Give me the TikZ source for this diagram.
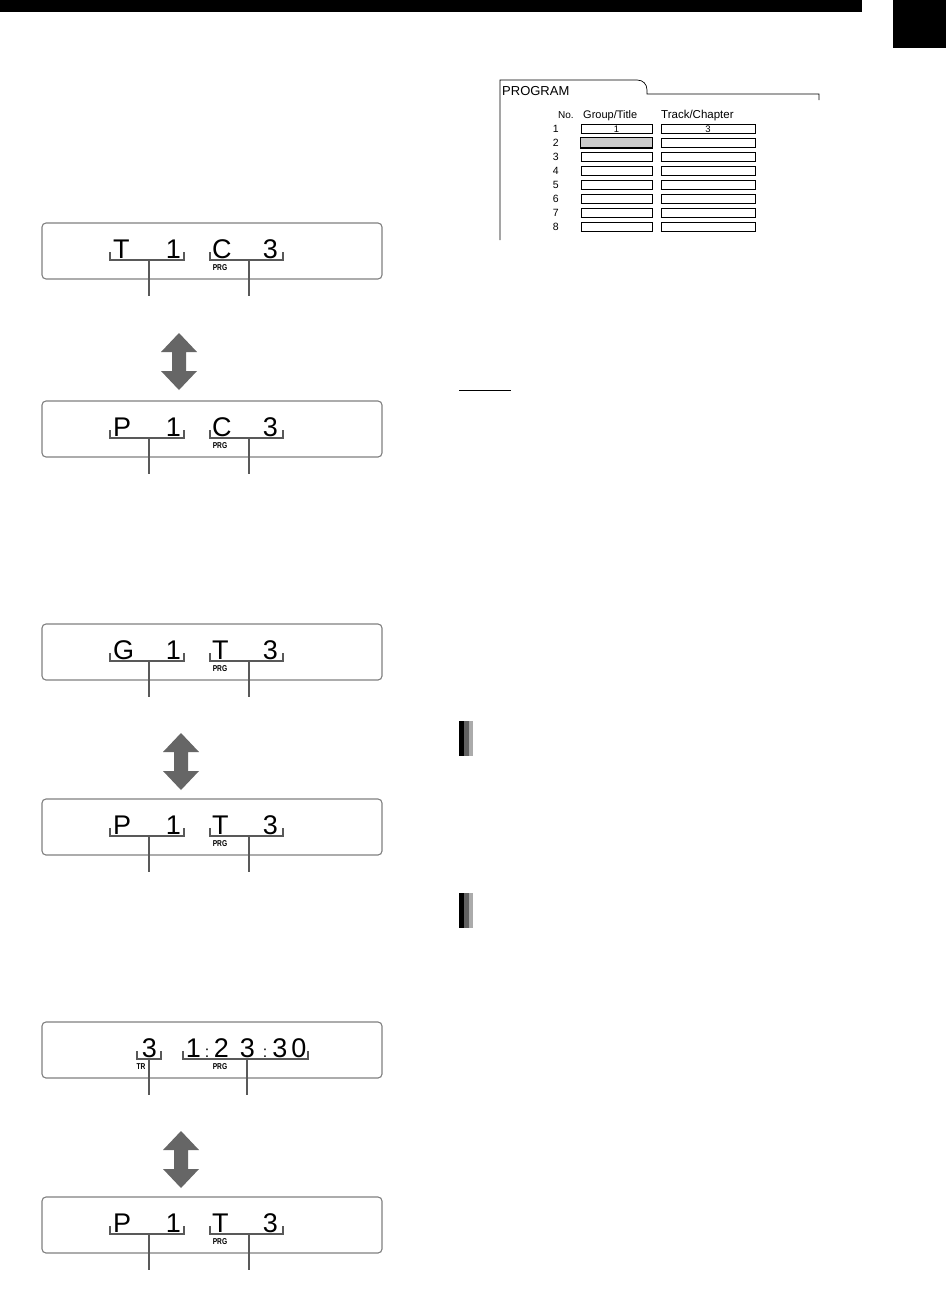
\documentclass[tikz,border=0pt]{standalone}
\usepackage{fontspec}
\setmainfont{Liberation Sans}
\tikzset{
  lcd/.style={draw=black!50, line width=1.1pt, rounded corners=4pt, minimum width=340pt, minimum height=56pt, inner sep=0pt},
  big/.style={font=\fontsize{27}{30}\selectfont, inner sep=0pt},
  colon/.style={font=\fontsize{16}{17}\selectfont, inner sep=0pt, anchor=base},
  tinylab/.style={font=\bfseries\fontsize{8.5}{9}\selectfont, inner sep=0pt},
  brk/.style={draw=black!65, line width=1.1pt},
  swaparrowfill/.style={fill=black!60},
  tbl/.style={draw=black, line width=0.7pt},
  cell/.style={draw=black, line width=0.6pt, minimum width=71pt, minimum height=9.5pt, inner sep=0pt},
  cellb/.style={cell, minimum width=94pt},
  hdr/.style={font=\fontsize{11}{12}\selectfont, inner sep=0pt, anchor=base west},
  rownum/.style={font=\fontsize{10.5}{11}\selectfont, inner sep=0pt, anchor=base east},
  cellval/.style={inner sep=0pt, font=\fontsize{9.5}{10}\selectfont},
}
\newcommand\narrowtxt[1]{\scalebox{0.78}[1]{#1}}
\newcommand\lcdpair[6]{%
\begin{scope}[shift={(0,#2)}]
 \node[lcd] (#1) at (212,28) {};
 \node[big, anchor=base west] (#1-a) at (113,35) {#3};
 \node[big, anchor=base east] (#1-b) at (181,35) {#4};
 \node[big, anchor=base west] (#1-c) at (212,35) {#5};
 \node[big, anchor=base east] (#1-d) at (278,35) {#6};
 \node[tinylab] (#1-prg) at (220,44.5) {\narrowtxt{PRG}};
 \draw[brk] (110,29) -- (110,37) -- (184,37) -- (184,29);
 \draw[brk] (210,29) -- (210,37) -- (283,37) -- (283,29);
 \coordinate (#1-s1) at (149,37); \coordinate (#1-e1) at (149,73);
 \coordinate (#1-s2) at (249,37); \coordinate (#1-e2) at (249,73);
 \draw[brk] (#1-s1) -- (#1-e1);
 \draw[brk] (#1-s2) -- (#1-e2);
\end{scope}}
\newcommand\swaparrow[2]{%
\fill[swaparrowfill] (#1,#2) -- ++(18,19) -- ++(-11,0) -- ++(0,19) -- ++(11,0) -- ++(-18,19) -- ++(-18,-19) -- ++(11,0) -- ++(0,-19) -- ++(-11,0) -- cycle;}
\begin{document}
\begin{tikzpicture}[x=1pt,y=-1pt]
\useasboundingbox (0,0) rectangle (946,1307);
\fill[white] (0,0) rectangle (946,1307);
% header bar and tab
\fill[black] (0,0) rectangle (862,12);
\fill[black] (893,0) rectangle (946,48);

% displays
\lcdpair{d1}{223}{T}{1}{C}{3}
\swaparrow{179}{333}
\lcdpair{d2}{401}{P}{1}{C}{3}

\lcdpair{d3}{624}{G}{1}{T}{3}
\swaparrow{181}{733}
\lcdpair{d4}{799}{P}{1}{T}{3}

% time display
\begin{scope}[shift={(0,1022)}]
 \node[lcd] (d5) at (212,28) {};
 \node[big, anchor=base] (d5-tr) at (149.5,35) {3};
 \node[big, anchor=base] (d5-h) at (193.5,35) {1};
 \node[colon] (d5-c1) at (207,35) {:};
 \node[big, anchor=base] (d5-m1) at (221.5,35) {2};
 \node[big, anchor=base] (d5-m2) at (247.5,35) {3};
 \node[colon] (d5-c2) at (265,35) {:};
 \node[big, anchor=base] (d5-s1) at (280,35) {3};
 \node[big, anchor=base] (d5-s2) at (299,35) {0};
 \node[tinylab] (d5-trl) at (141,44.5) {\narrowtxt{TR}};
 \node[tinylab] (d5-prg) at (220,44.5) {\narrowtxt{PRG}};
 \draw[brk] (137,29) -- (137,37) -- (161,37) -- (161,29);
 \draw[brk] (183,29) -- (183,37) -- (308,37) -- (308,29);
 \coordinate (d5-s1) at (149,37); \coordinate (d5-e1) at (149,73);
 \coordinate (d5-s2) at (247,37); \coordinate (d5-e2) at (247,73);
 \draw[brk] (d5-s1) -- (d5-e1);
 \draw[brk] (d5-s2) -- (d5-e2);
\end{scope}
\swaparrow{181}{1131}
\lcdpair{d6}{1197}{P}{1}{T}{3}

% PROGRAM screen
\draw[tbl] (500,240) -- (500,80) -- (637,80) .. controls (643,80) and (647,84) .. (647,90) -- (647,94) -- (819,94) -- (819,100);
\node[font=\fontsize{13}{14}\selectfont, inner sep=0pt, anchor=base west] (ptitle) at (502,95) {PROGRAM};
\node[hdr, font=\fontsize{10}{11}\selectfont] (hno) at (558,118) {No.};
\node[hdr] (hgrp) at (583,118) {Group/Title};
\node[hdr, font=\fontsize{11.5}{12}\selectfont] (htrk) at (661,118) {Track/Chapter};
\foreach \i in {1,...,8}{
  \node[rownum] (n\i) at (559,{132.2+14*(\i-1)}) {\i};
  \node[cell] (g\i) at (616.5,{128.75+14*(\i-1)}) {};
  \node[cellb] (t\i) at (708,{128.75+14*(\i-1)}) {};
}
\fill[black!20] (g2.south west) rectangle (g2.north east);
\draw[line width=0.6pt] (g2.south west) rectangle (g2.north east);
\node[cellval] (g1v) at (g1) {1};
\node[cellval] (t1v) at (t1) {3};
\foreach \i in {1,...,8}{
  \draw[line width=1.3pt] (g\i.south west) -- (g\i.south east) -- (g\i.north east);
  \draw[line width=1.3pt] (t\i.south west) -- (t\i.south east) -- (t\i.north east);
}

% note underline
\coordinate (ul1) at (459,390); \coordinate (ul2) at (511,390);
\draw[line width=1pt] (ul1) -- (ul2);

% section bars
\foreach \yy in {721,893}{
  \fill[black] (459,\yy) rectangle (464,\yy+35);
  \fill[black!62] (464,\yy) rectangle (469,\yy+35);
  \fill[black!33] (469,\yy) rectangle (473,\yy+35);
}
\end{tikzpicture}
\end{document}
